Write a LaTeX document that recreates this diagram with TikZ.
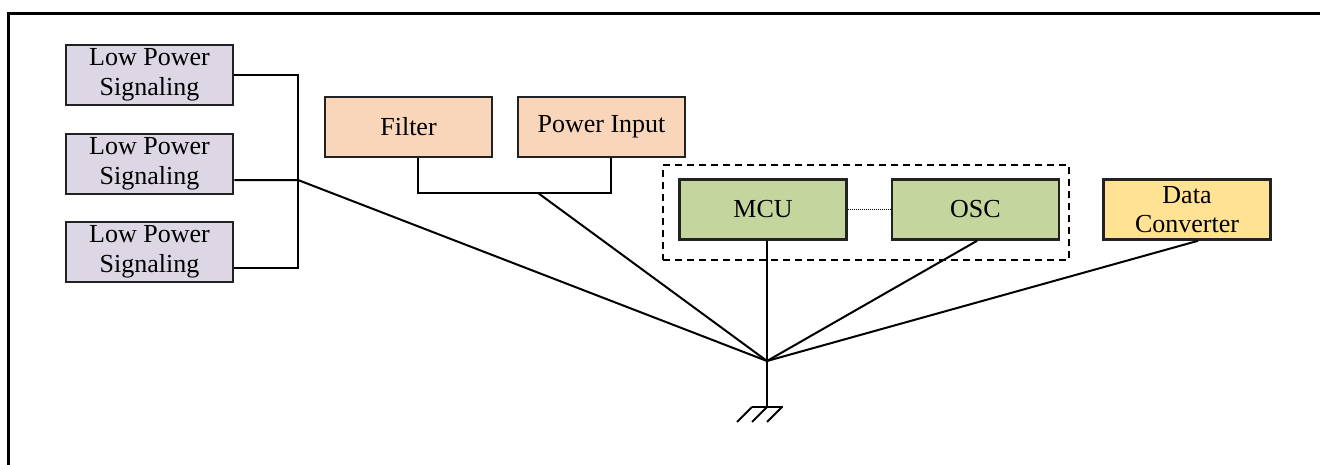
\documentclass[tikz,border=0pt]{standalone}
\usepackage{fontspec}
\setmainfont{Liberation Serif}
\definecolor{lpfill}{HTML}{DDD7E5}
\definecolor{pkfill}{HTML}{F9D6BA}
\definecolor{gnfill}{HTML}{C4D69D}
\definecolor{ylfill}{HTML}{FFE294}
\definecolor{edge}{HTML}{222222}
\tikzset{
  blk/.style={draw=edge, line width=2.6pt, minimum width=167pt, minimum height=60pt,
    inner sep=0pt, align=center, font=\fontsize{26}{29.5}\selectfont},
  wire/.style={draw=black, line width=2pt, line join=miter},
}
\begin{document}
\begin{tikzpicture}[x=1pt,y=-1pt]
\useasboundingbox (0,0) rectangle (1320,464);
% frame (cropped)
\draw[line width=3pt] (8,466) -- (8,13) -- (1322,13);

% nodes
\node[blk, fill=lpfill] (lp1) at (149.5,75) {Low Power\\Signaling};
\node[blk, fill=lpfill] (lp2) at (149.5,164) {Low Power\\Signaling};
\node[blk, fill=lpfill] (lp3) at (149.5,252) {Low Power\\Signaling};
\node[blk, fill=pkfill] (filt) at (408.5,127) {Filter};
\node[blk, fill=pkfill] (pwr) at (601.5,127) {Power Input};
\node[blk, fill=gnfill] (mcu) at (763,209.5) {MCU};
\node[blk, fill=gnfill] (osc) at (975.5,209.5) {OSC};
\node[blk, fill=ylfill] (dc) at (1187,209.5) {Data\\Converter};

% dashed group
\node[draw, dashed, dash pattern=on 7pt off 5pt, line width=1.6pt, inner sep=0pt,
  minimum width=406pt, minimum height=95pt] (grp) at (866,212.5) {};

% junction points
\coordinate (bus) at (298,180);
\coordinate (pj) at (538,193);
\coordinate (gnd) at (767,361);
\coordinate (gb) at (767,407);

% low power bus
\draw[wire] (lp1.east) -| (bus) |- ([yshift=-16pt]lp3.east);
\draw[wire] ([yshift=-16pt]lp2.east) -- (bus) -- (gnd);

% filter / power input
\draw[wire] ([xshift=9pt]filt.south) |- (pj) -| ([xshift=9pt]pwr.south);
\draw[wire] (pj) -- (gnd);

% mcu, osc, data converter
\draw[wire] (mcu.south -| gnd) -- (gnd);
\draw[wire] ([xshift=1.5pt]osc.south) -- (gnd);
\draw[wire] ([xshift=11pt]dc.south) -- (gnd);
\draw[line width=1pt, dash pattern=on 1pt off 1pt] (mcu.east) -- (osc.west);

% ground
\draw[wire] (gnd) -- (gb);
\draw[wire] ([xshift=-15pt]gb) -- ([xshift=16pt]gb);
\draw[wire] ([xshift=-15pt]gb) -- ([xshift=-30pt,yshift=-15pt]gb);
\draw[wire] (gb) -- ([xshift=-15pt,yshift=-15pt]gb);
\draw[wire] ([xshift=15pt]gb) -- ([yshift=-15pt]gb);
\end{tikzpicture}
\end{document}
